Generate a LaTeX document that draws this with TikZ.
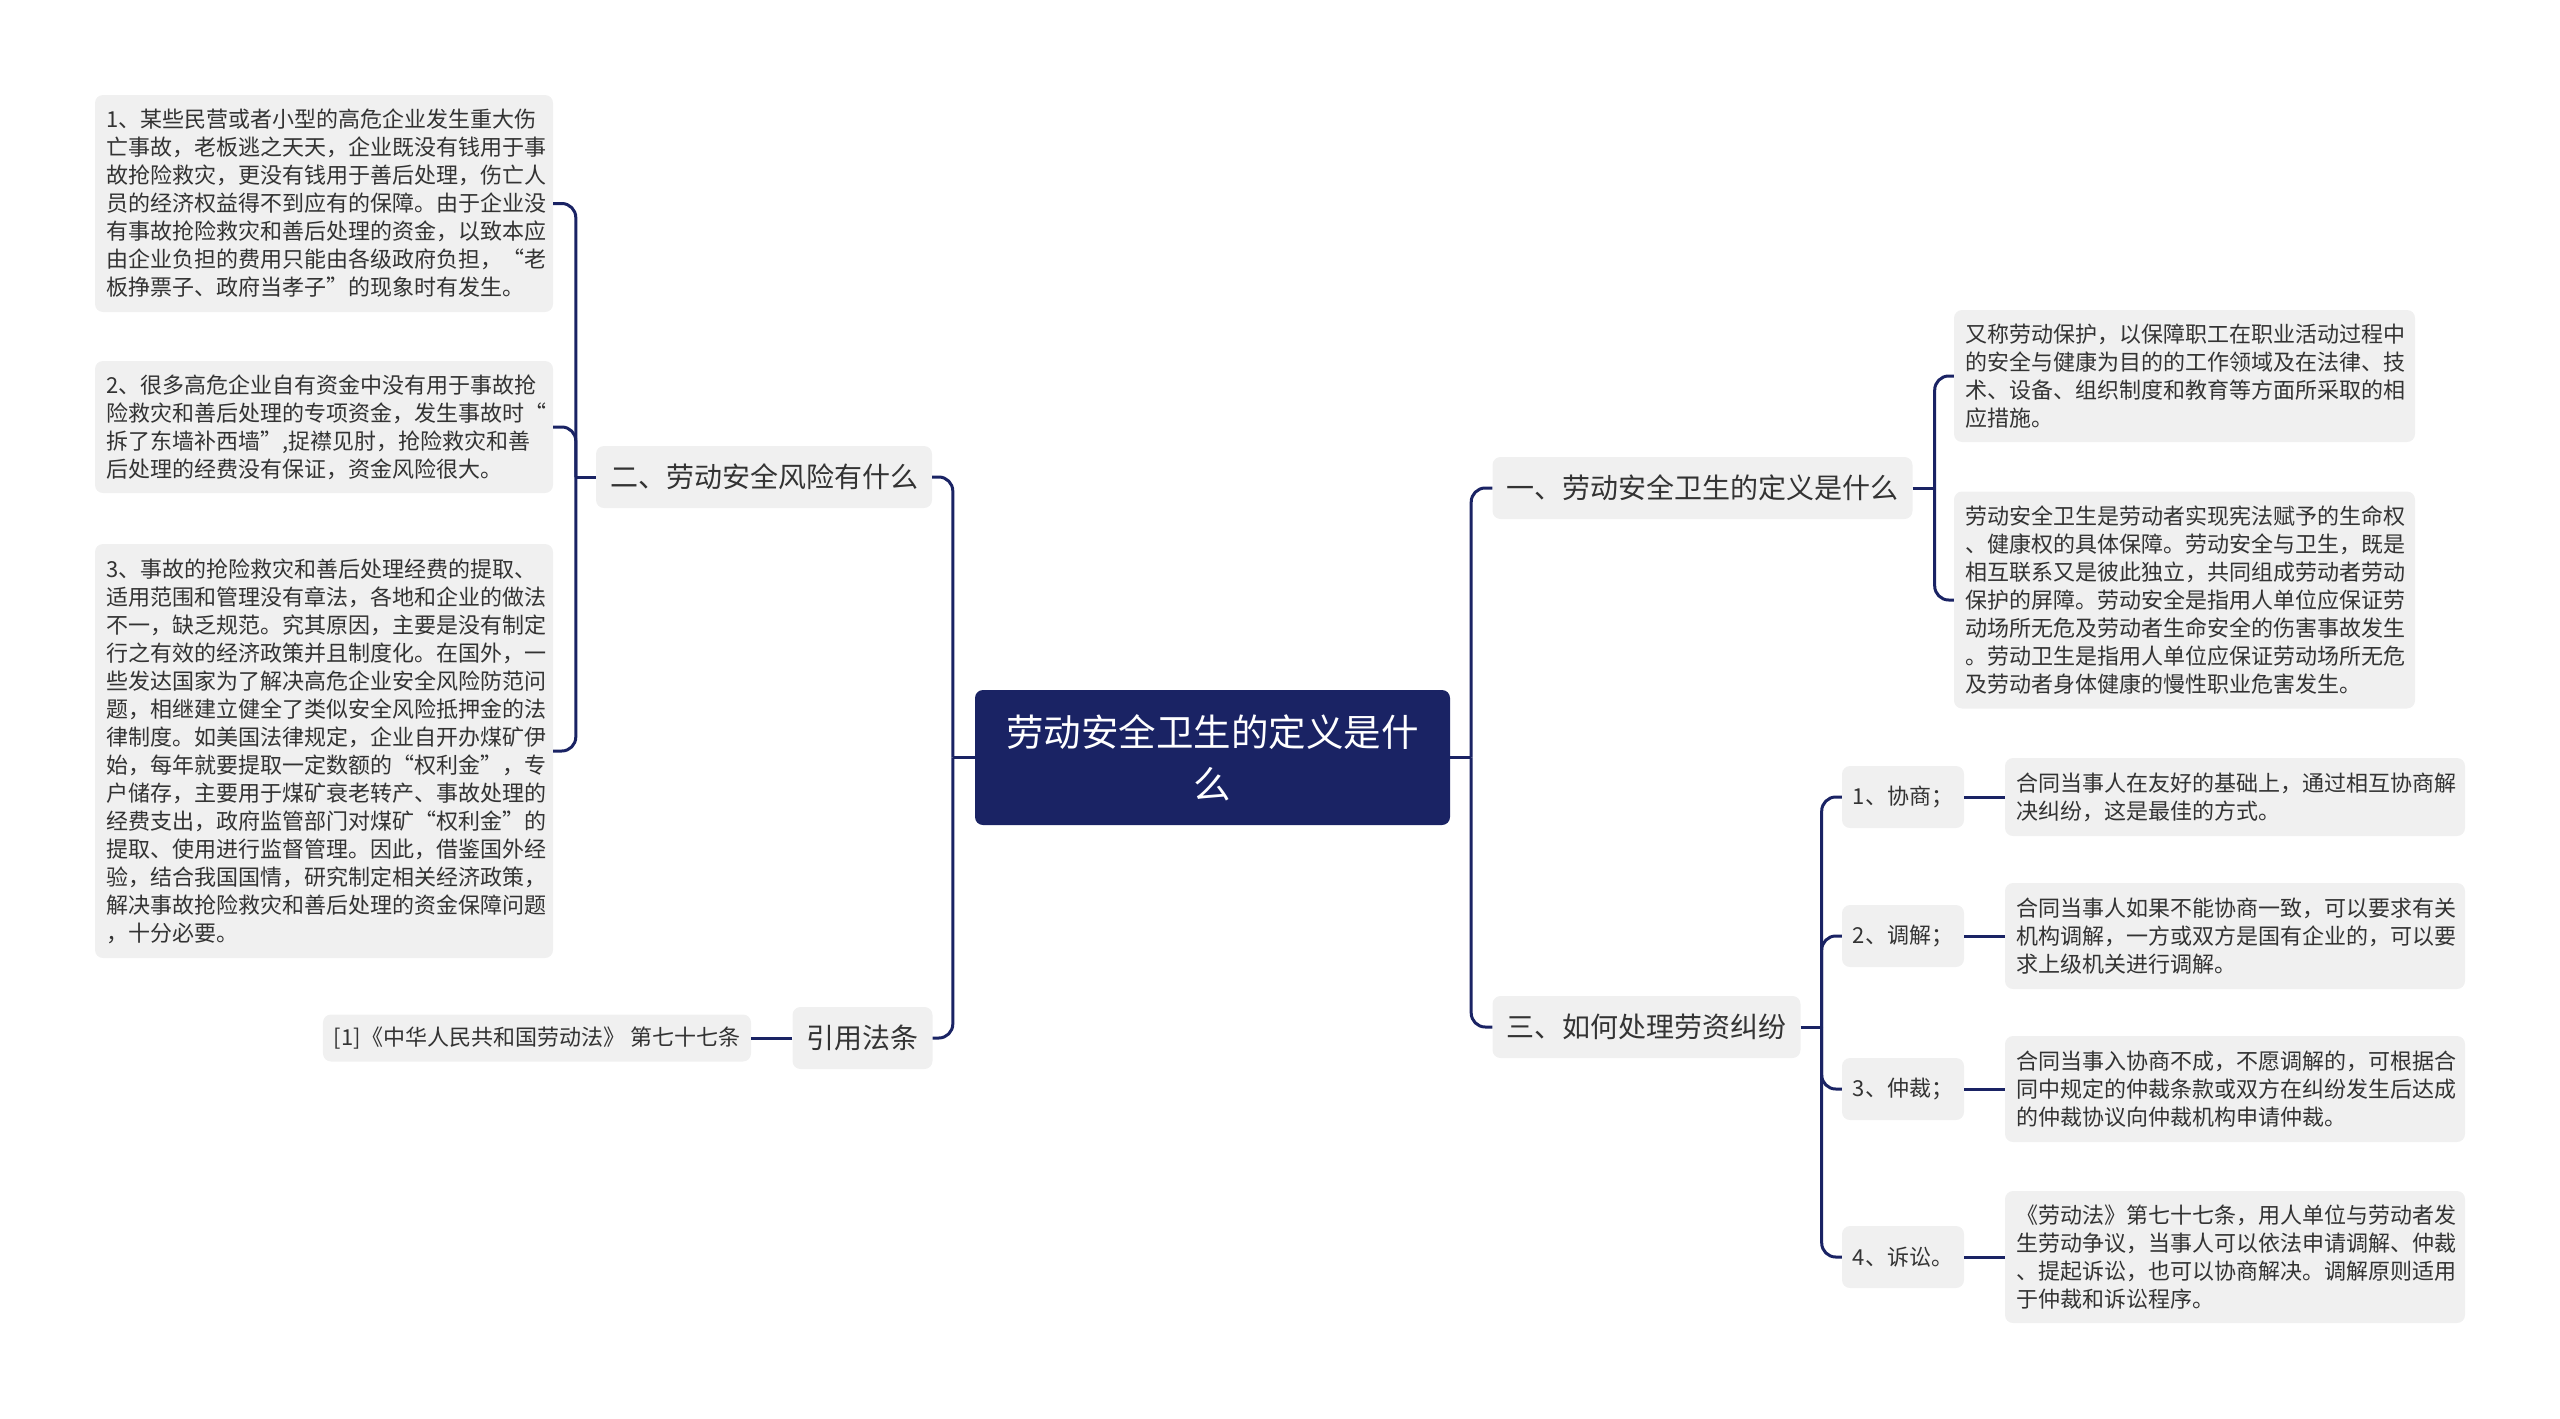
\documentclass[tikz,border=0pt]{standalone}
\usepackage{fontspec}
\setmainfont{Noto Sans CJK SC}
\definecolor{navy}{RGB}{26,35,100}
\definecolor{boxgray}{RGB}{240,240,240}
\definecolor{txt}{RGB}{51,51,51}
\begin{document}
\begin{tikzpicture}[x=1pt,y=-1pt,
  leaf/.style={fill=boxgray, rounded corners=8pt, text=txt,
    font=\fontsize{22}{28}\selectfont, align=left,
    inner xsep=11pt, inner ysep=0pt, anchor=center},
  third/.style={fill=boxgray, rounded corners=8pt, text=txt,
    font=\fontsize{22}{28}\selectfont, align=center,
    minimum width=122pt, minimum height=62pt, inner sep=0pt, anchor=center},
  second/.style={fill=boxgray, rounded corners=8pt, text=txt,
    font=\fontsize{28}{34}\selectfont, align=center,
    minimum height=62pt, inner xsep=14pt, inner ysep=0pt, anchor=center},
  root/.style={fill=navy, rounded corners=8pt, text=white,
    font=\fontsize{37.5}{52}\selectfont, align=center,
    minimum width=475pt, minimum height=135pt, inner sep=0pt, anchor=center},
  conn/.style={draw=navy, line width=3pt, line join=round},
  elbow/.style={conn, rounded corners=14pt}
]
\useasboundingbox (0,0) rectangle (2560,1419);

% root
\node[root] (c) at (1212.5,757.5) {劳动安全卫生的定义是什\\么};

% second level
\node[second] (b2) at (764,477) {二、劳动安全风险有什么};
\node[second] (bref) at (862.5,1038) {引用法条};
\node[second] (b1) at (1702.5,488) {一、劳动安全卫生的定义是什么};
\node[second] (b3) at (1646.5,1027) {三、如何处理劳资纠纷};

% left leaves
\node[leaf, text width=436pt, minimum height=217pt] (l1) at (324,203.5) {1、某些民营或者小型的高危企业发生重大伤\\亡事故，老板逃之天天，企业既没有钱用于事\\故抢险救灾，更没有钱用于善后处理，伤亡人\\员的经济权益得不到应有的保障。由于企业没\\有事故抢险救灾和善后处理的资金，以致本应\\由企业负担的费用只能由各级政府负担，“老\\板挣票子、政府当孝子”的现象时有发生。};
\node[leaf, text width=436pt, minimum height=132pt] (l2) at (324,427) {2、很多高危企业自有资金中没有用于事故抢\\险救灾和善后处理的专项资金，发生事故时“\\拆了东墙补西墙”,捉襟见肘，抢险救灾和善\\后处理的经费没有保证，资金风险很大。};
\node[leaf, text width=436pt, minimum height=414pt] (l3) at (324,751) {3、事故的抢险救灾和善后处理经费的提取、\\适用范围和管理没有章法，各地和企业的做法\\不一，缺乏规范。究其原因，主要是没有制定\\行之有效的经济政策并且制度化。在国外，一\\些发达国家为了解决高危企业安全风险防范问\\题，相继建立健全了类似安全风险抵押金的法\\律制度。如美国法律规定，企业自开办煤矿伊\\始，每年就要提取一定数额的“权利金”，专\\户储存，主要用于煤矿衰老转产、事故处理的\\经费支出，政府监管部门对煤矿“权利金”的\\提取、使用进行监督管理。因此，借鉴国外经\\验，结合我国国情，研究制定相关经济政策，\\解决事故抢险救灾和善后处理的资金保障问题\\，十分必要。};
\node[leaf, minimum width=428pt, minimum height=47pt, align=center] (lref) at (537,1038) {[1]《中华人民共和国劳动法》 第七十七条};

% right leaves of 一
\node[leaf, text width=439pt, minimum height=132pt] (ra) at (2184.5,376) {又称劳动保护，以保障职工在职业活动过程中\\的安全与健康为目的的工作领域及在法律、技\\术、设备、组织制度和教育等方面所采取的相\\应措施。};
\node[leaf, text width=439pt, minimum height=217pt] (rb) at (2184.5,600) {劳动安全卫生是劳动者实现宪法赋予的生命权\\、健康权的具体保障。劳动安全与卫生，既是\\相互联系又是彼此独立，共同组成劳动者劳动\\保护的屏障。劳动安全是指用人单位应保证劳\\动场所无危及劳动者生命安全的伤害事故发生\\。劳动卫生是指用人单位应保证劳动场所无危\\及劳动者身体健康的慢性职业危害发生。};

% third level of 三
\node[third] (t1) at (1903,797) {1、协商；};
\node[third] (t2) at (1903,936) {2、调解；};
\node[third] (t3) at (1903,1089) {3、仲裁；};
\node[third] (t4) at (1903,1257) {4、诉讼。};

\node[leaf, text width=438pt, minimum height=78pt] (s1) at (2235,797) {合同当事人在友好的基础上，通过相互协商解\\决纠纷，这是最佳的方式。};
\node[leaf, text width=438pt, minimum height=106pt] (s2) at (2235,936) {合同当事人如果不能协商一致，可以要求有关\\机构调解，一方或双方是国有企业的，可以要\\求上级机关进行调解。};
\node[leaf, text width=438pt, minimum height=106pt] (s3) at (2235,1089) {合同当事入协商不成，不愿调解的，可根据合\\同中规定的仲裁条款或双方在纠纷发生后达成\\的仲裁协议向仲裁机构申请仲裁。};
\node[leaf, text width=438pt, minimum height=132pt] (s4) at (2235,1257) {《劳动法》第七十七条，用人单位与劳动者发\\生劳动争议，当事人可以依法申请调解、仲裁\\、提起诉讼，也可以协商解决。调解原则适用\\于仲裁和诉讼程序。};

% junctions
\coordinate (jc) at ([xshift=-22pt]c.west);
\coordinate (jcr) at ([xshift=21pt]c.east);
\coordinate (j2) at ([xshift=-20pt]b2.west);
\coordinate (j1) at ([xshift=22pt]b1.east);
\coordinate (j3) at ([xshift=21pt]b3.east);

% connectors
\draw[conn] (c.west) -- (jc);
\draw[elbow] (jc) |- (b2.east);
\draw[elbow] (jc) |- (bref.east);
\draw[conn] (bref.west) -- (lref.east);

\draw[conn] (b2.west) -- (j2);
\draw[elbow] (j2) |- (l1.east);
\draw[elbow] (j2) |- (l2.east);
\draw[elbow] (j2) |- (l3.east);

\draw[conn] (c.east) -- (jcr);
\draw[elbow] (jcr) |- (b1.west);
\draw[elbow] (jcr) |- (b3.west);

\draw[conn] (b1.east) -- (j1);
\draw[elbow] (j1) |- (ra.west);
\draw[elbow] (j1) |- (rb.west);

\draw[conn] (b3.east) -- (j3);
\draw[elbow] (j3) |- (t1.west);
\draw[elbow] (j3) |- (t2.west);
\draw[elbow] (j3) |- (t3.west);
\draw[elbow] (j3) |- (t4.west);

\draw[conn] (t1.east) -- (s1.west);
\draw[conn] (t2.east) -- (s2.west);
\draw[conn] (t3.east) -- (s3.west);
\draw[conn] (t4.east) -- (s4.west);
\end{tikzpicture}
\end{document}
